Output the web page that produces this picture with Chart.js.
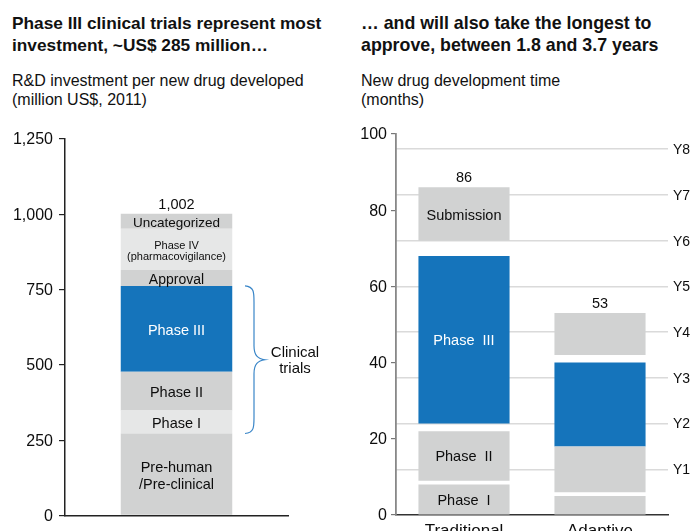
<!DOCTYPE html>
<html>
<head>
<meta charset="utf-8">
<script src="https://cdn.jsdelivr.net/npm/chart.js@4.4.1/dist/chart.umd.min.js"></script>
<style>
  body { margin: 0; background: #fff; width: 692px; height: 531px; overflow: hidden; position: relative;
         font-family: "Liberation Sans", Arial, sans-serif; color: #111; }
  .title { position: absolute; top: 13px; font-size: 17.3px; font-weight: bold; line-height: 21.5px; white-space: nowrap; }
  .sub { position: absolute; top: 72px; font-size: 16px; line-height: 18.5px; white-space: nowrap; }
  canvas { position: absolute; top: 120px; }
</style>
</head>
<body>
<div class="title" style="left:12px">Phase III clinical trials represent most<br>investment, ~US$ 285 million…</div>
<div class="title" style="left:361px; font-size:17.8px">… and will also take the longest to<br>approve, between 1.8 and 3.7 years</div>
<div class="sub" style="left:12px">R&amp;D investment per new drug developed<br>(million US$, 2011)</div>
<div class="sub" style="left:361px">New drug development time<br>(months)</div>
<canvas id="investChart" width="345" height="411" style="left:0"></canvas>
<canvas id="timeChart" width="347" height="411" style="left:345px"></canvas>
<script>
// Left chart: R&D investment per new drug (million US$)
const investSegments = ['Pre-human\n/Pre-clinical', 'Phase I', 'Phase II', 'Phase III', 'Approval', 'Phase IV\n(pharmacovigilance)', 'Uncategorized'];
const investValues = [272, 76, 129, 285, 53, 137, 50];
const investTicks = [0, 250, 500, 750, 1000, 1250];

// Right chart: development time (months), floating segments
const timeCategories = ['Traditional', 'Adaptive'];
const timePhases = ['Phase  I', 'Phase  II', 'Phase  III', 'Submission'];
const traditionalStart = [0, 9, 24, 72];
const traditionalEnd = [8, 22, 68, 86];
const adaptiveStart = [0, 6, 18, 42];
const adaptiveEnd = [5, 18, 40, 53];
const timeTicks = [0, 20, 40, 60, 80, 100];
const yearTicks = [12, 24, 36, 48, 60, 72, 84, 96];
const yearLabels = ['Y1', 'Y2', 'Y3', 'Y4', 'Y5', 'Y6', 'Y7', 'Y8'];

const FONT = '"Liberation Sans", Arial, sans-serif';
const GRAY = '#d1d2d2';
const LIGHT = '#e6e7e7';
const BLUE = '#1574bb';
const INK = '#0d0d0d';

Chart.defaults.font.family = FONT;
Chart.defaults.color = INK;

document.addEventListener("DOMContentLoaded", function () {
    // styles for the labels inside the left bar
    const investColors = [GRAY, LIGHT, GRAY, BLUE, GRAY, LIGHT, GRAY];
    const investLabelStyle = [
        { size: 14.5, lh: 17, color: INK },
        { size: 14.5, lh: 17, color: INK },
        { size: 14.5, lh: 17, color: INK },
        { size: 14.5, lh: 17, color: '#fff' },
        { size: 14, lh: 17, color: INK },
        { size: 11, lh: 11.7, color: INK },
        { size: 13.5, lh: 17, color: INK }
    ];

    function drawLines(ctx, text, x, y, style) {
        const lines = text.split('\n');
        ctx.font = style.size + 'px ' + FONT;
        ctx.fillStyle = style.color;
        ctx.textAlign = 'center';
        ctx.textBaseline = 'middle';
        const y0 = y - (lines.length - 1) * style.lh / 2;
        lines.forEach((l, i) => ctx.fillText(l, x, y0 + i * style.lh));
    }

    // segment labels, total on top and the "Clinical trials" brace
    const investLabels = {
        id: 'investLabels',
        afterDatasetsDraw(chart) {
            const ctx = chart.ctx;
            ctx.save();
            let topY = null, cx = null;
            chart.data.datasets.forEach((ds, i) => {
                const bar = chart.getDatasetMeta(i).data[0];
                const p = bar.getProps(['x', 'y', 'base'], true);
                drawLines(ctx, investSegments[i], p.x, (p.y + p.base) / 2 + 2, investLabelStyle[i]);
                topY = p.y; cx = p.x;
            });
            const total = investValues.reduce((a, b) => a + b, 0);
            drawLines(ctx, total.toLocaleString('en-US'), cx, topY - 9, { size: 14.5, lh: 17, color: INK });

            // brace over Phase I..III
            const y = chart.scales.y;
            const bottom = y.getPixelForValue(investValues[0]);
            const top = y.getPixelForValue(investValues.slice(0, 4).reduce((a, b) => a + b, 0));
            const mid = (top + bottom) / 2;
            const xe = 245, xm = 254, xt = 265;
            ctx.strokeStyle = '#3a86c8';
            ctx.lineWidth = 1.2;
            ctx.beginPath();
            ctx.moveTo(xe, top);
            ctx.bezierCurveTo(xm, top + 1, xm, top + 6, xm, top + 16);
            ctx.lineTo(xm, mid - 14);
            ctx.bezierCurveTo(xm, mid - 4, xm + 4, mid - 1, xt, mid);
            ctx.bezierCurveTo(xm + 4, mid + 1, xm, mid + 4, xm, mid + 14);
            ctx.lineTo(xm, bottom - 16);
            ctx.bezierCurveTo(xm, bottom - 6, xm, bottom - 1, xe, bottom);
            ctx.stroke();
            drawLines(ctx, 'Clinical\ntrials', 295, mid + 1, { size: 15, lh: 16.6, color: INK });
            ctx.restore();
        }
    };

    new Chart(document.getElementById('investChart').getContext('2d'), {
        type: 'bar',
        data: {
            labels: ['R&D investment'],
            datasets: investValues.map((v, i) => ({
                label: investSegments[i],
                data: [v],
                backgroundColor: investColors[i],
                borderWidth: 0,
                barPercentage: 0.5,
                categoryPercentage: 1
            }))
        },
        options: {
            responsive: false,
            animation: false,
            layout: { padding: { top: 19, right: 57, bottom: 0, left: 0 } },
            plugins: { legend: { display: false }, tooltip: { enabled: false } },
            scales: {
                x: {
                    stacked: true,
                    grid: { display: false, drawTicks: false },
                    ticks: { display: false },
                    border: { color: '#222', width: 1.5 },
                    afterFit: s => { s.height = 15; }
                },
                y: {
                    stacked: true,
                    min: 0,
                    max: 1250,
                    afterBuildTicks: s => { s.ticks = investTicks.map(v => ({ value: v })); },
                    ticks: {
                        font: { size: 16 },
                        color: INK,
                        padding: 6,
                        labelOffset: 1,
                        callback: v => v.toLocaleString('en-US')
                    },
                    grid: { drawOnChartArea: false, tickLength: 6, color: '#222', lineWidth: 1.2 },
                    border: { color: '#222', width: 1.5 },
                    afterFit: s => { s.width = 65; }
                }
            }
        },
        plugins: [investLabels]
    });

    // Right chart
    const timeColors = [GRAY, GRAY, BLUE, GRAY];
    const timeLabels = {
        id: 'timeLabels',
        afterDatasetsDraw(chart) {
            const ctx = chart.ctx;
            ctx.save();
            chart.data.datasets.forEach((ds, i) => {
                const bar = chart.getDatasetMeta(i).data[0];
                const p = bar.getProps(['x', 'y', 'base'], true);
                drawLines(ctx, timePhases[i], p.x, (p.y + p.base) / 2 + 1.5,
                    { size: 14.5, lh: 17, color: i === 2 ? '#fff' : INK });
            });
            const y = chart.scales.y;
            [traditionalEnd, adaptiveEnd].forEach((ends, j) => {
                const bar = chart.getDatasetMeta(0).data[j];
                const total = Math.max(...ends);
                drawLines(ctx, String(total), bar.x, y.getPixelForValue(total) - 9.5, { size: 14.5, lh: 17, color: INK });
            });
            ctx.restore();
        }
    };

    new Chart(document.getElementById('timeChart').getContext('2d'), {
        type: 'bar',
        data: {
            labels: timeCategories,
            datasets: timePhases.map((name, i) => ({
                label: name,
                data: [[traditionalStart[i], traditionalEnd[i]], [adaptiveStart[i], adaptiveEnd[i]]],
                backgroundColor: timeColors[i],
                borderWidth: 0,
                borderSkipped: false,
                grouped: false,
                barPercentage: 0.67,
                categoryPercentage: 1
            }))
        },
        options: {
            responsive: false,
            animation: false,
            layout: { padding: { top: 14, right: 0, bottom: 0, left: 0 } },
            plugins: { legend: { display: false }, tooltip: { enabled: false } },
            scales: {
                x: {
                    grid: { display: false, drawTicks: false },
                    ticks: { font: { size: 17 }, color: INK, padding: 6 },
                    border: { color: '#333', width: 1.5 },
                    afterFit: s => { s.height = 16; }
                },
                y: {
                    min: 0,
                    max: 100,
                    afterBuildTicks: s => { s.ticks = timeTicks.map(v => ({ value: v })); },
                    ticks: { font: { size: 16 }, color: INK, padding: 4, labelOffset: 1 },
                    grid: { drawOnChartArea: false, tickLength: 5, color: '#777', lineWidth: 1.2 },
                    border: { color: '#888', width: 1.8 },
                    afterFit: s => { s.width = 51; }
                },
                y2: {
                    position: 'right',
                    min: 0,
                    max: 100,
                    afterBuildTicks: s => { s.ticks = yearTicks.map(v => ({ value: v })); },
                    ticks: { font: { size: 14 }, color: INK, padding: 5, labelOffset: 1, callback: (v, i) => yearLabels[i] },
                    grid: { drawTicks: false, color: '#dadada', lineWidth: 1.5 },
                    border: { display: false },
                    afterFit: s => { s.width = 24; }
                }
            }
        },
        plugins: [timeLabels]
    });
});
</script>
</body>
</html>
